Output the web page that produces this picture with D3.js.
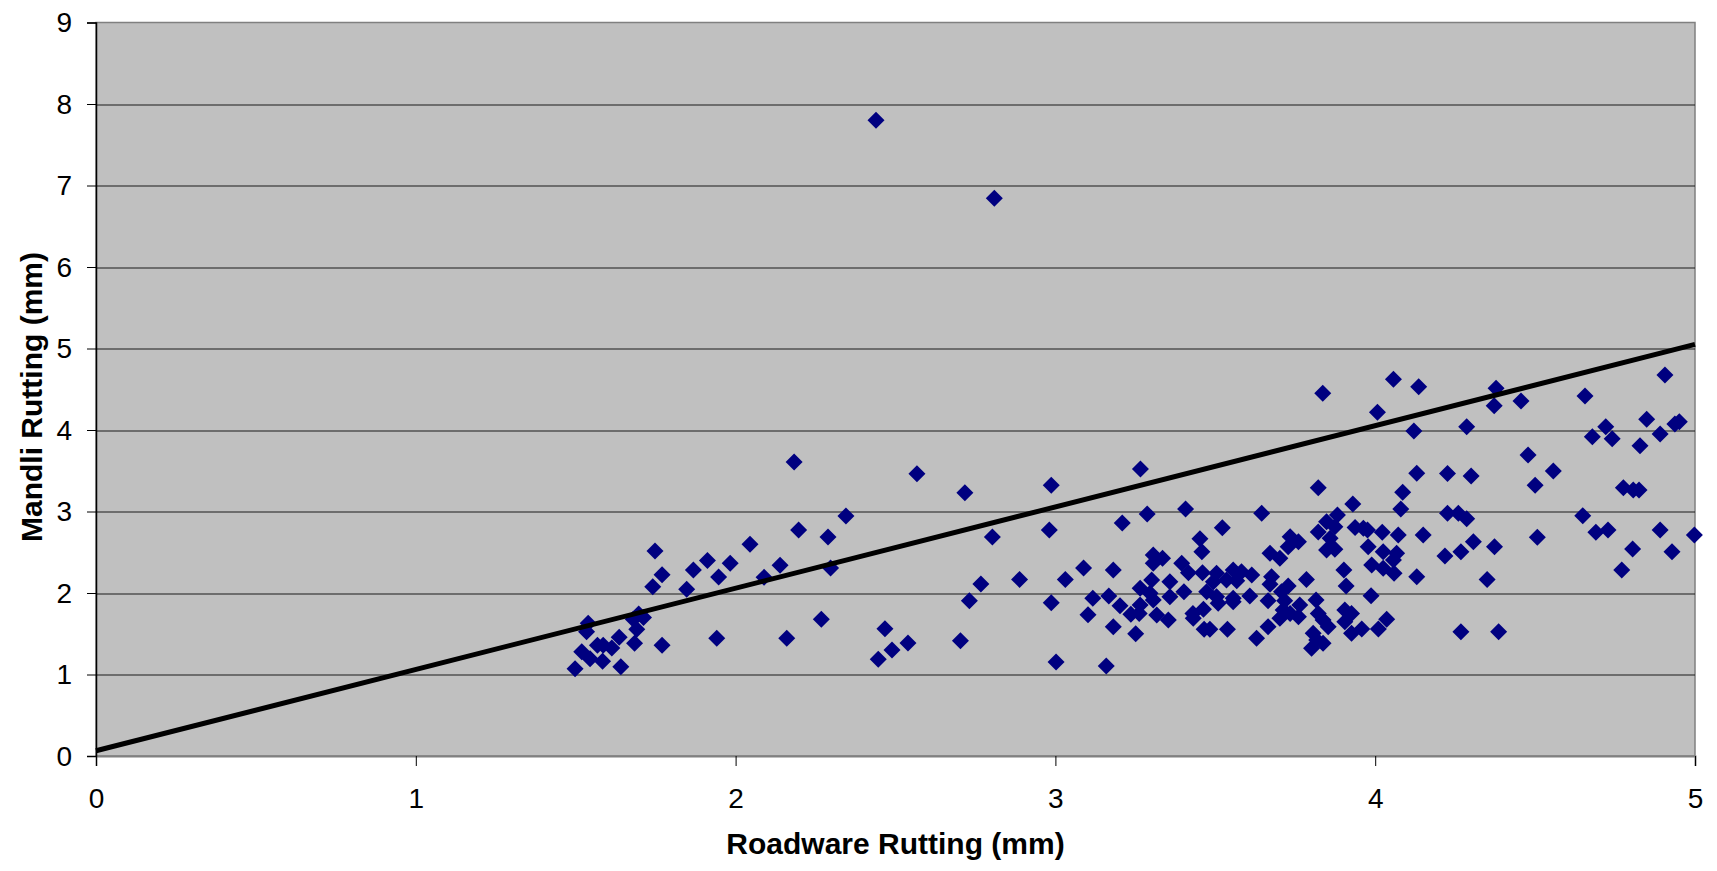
<!DOCTYPE html>
<html>
<head>
<meta charset="utf-8">
<script src="https://cdnjs.cloudflare.com/ajax/libs/d3/7.8.5/d3.min.js"></script>
<style>
  body { margin: 0; background: #fff; }
  svg { display: block; }
</style>
</head>
<body>
<div class="center"></div>
<script>
// Roadware vs Mandli rutting
var roadware = [
    2.183, 2.345, 2.197, 2.289, 1.748, 2.045, 1.912, 1.983, 1.868, 1.770,
    2.139, 1.947, 2.089, 2.297, 1.741, 1.847, 1.697, 1.712, 1.680, 1.691,
    1.539, 1.534, 1.684, 1.636, 1.613, 1.568, 1.586, 1.519, 1.545, 1.584,
    1.498, 1.641, 1.770, 1.941, 2.160, 2.268,
    2.439, 2.809,
    2.567, 2.717, 3.266, 2.987, 2.803, 2.981, 3.209, 3.287, 2.767, 2.731,
    2.888, 3.031, 3.088, 3.181, 2.987, 3.117, 3.167, 3.202, 3.102, 3.181,
    3.251, 3.236, 3.262, 3.317, 3.265, 3.306, 3.335, 3.306, 3.301, 3.296,
    3.306, 2.467, 2.446, 2.489, 2.539, 2.703, 3.002, 3.159,
    3.407, 3.522, 3.645, 3.452, 3.458, 3.395, 3.416, 3.460, 3.504, 3.556,
    3.582, 3.614, 3.358, 3.494, 3.535, 3.567, 3.402, 3.473, 3.504, 3.556,
    3.608, 3.358, 3.265, 3.509, 3.556, 3.353, 3.430, 3.463, 3.431, 3.465,
    3.483, 3.538, 3.629,
    4.130, 4.226, 4.086, 4.080, 3.822, 3.930, 3.882, 3.848, 3.874, 3.822,
    3.859, 3.848, 3.874, 3.937, 3.963, 3.976, 4.022, 4.072, 4.150, 3.734,
    3.760, 3.728, 3.671, 3.702, 3.978, 4.025, 4.067, 4.218, 3.989, 4.025,
    4.057, 4.059, 4.130, 3.902, 3.909, 3.785, 3.676, 3.671, 3.728, 3.707,
    3.665, 3.717, 3.764, 3.815, 3.987, 3.712, 3.702, 3.734, 3.760, 3.822,
    3.837, 3.853, 3.905, 3.926, 3.905, 4.036, 3.665, 3.958, 3.926, 4.010,
    3.806, 3.817, 3.837, 3.801,
    3.836, 4.057, 4.136, 4.007, 4.121,
    4.906, 4.378, 4.372, 4.456, 4.656, 4.286, 4.849, 4.721, 4.679, 4.741,
    4.891, 4.937, 4.951, 4.828, 4.478, 4.557, 4.500, 4.300, 4.776, 4.807,
    4.825, 4.226, 4.260, 4.286, 4.649, 4.690, 4.728, 4.891, 4.998, 4.507,
    4.307, 4.373, 4.268, 4.805, 4.928, 4.771, 4.350, 4.268, 4.386
];
var mandli = [
    3.607, 2.945, 2.773, 2.687, 2.515, 2.597, 2.400, 2.364, 2.282, 2.225,
    2.340, 2.196, 2.192, 2.307, 2.078, 2.045, 1.742, 1.700, 1.677, 1.554,
    1.628, 1.525, 1.383, 1.456, 1.325, 1.358, 1.358, 1.280, 1.194, 1.162,
    1.071, 1.096, 1.358, 1.444, 1.444, 1.677,
    7.800, 6.845,
    3.464, 3.231, 3.521, 3.321, 2.687, 2.773, 2.859, 2.969, 2.110, 1.906,
    2.167, 2.167, 2.307, 2.282, 1.881, 1.935, 1.963, 1.845, 1.734, 1.587,
    1.501, 1.738, 1.750, 1.730, 2.057, 2.466, 2.426, 2.364, 2.160, 1.996,
    1.914, 1.562, 1.186, 1.300, 1.387, 1.415, 1.153, 1.104,
    3.031, 2.801, 2.978, 2.667, 2.507, 2.364, 2.250, 2.250, 2.242, 2.282,
    2.262, 2.221, 2.139, 2.139, 2.160, 2.151, 2.016, 2.016, 1.955, 1.935,
    1.963, 1.955, 1.853, 1.873, 1.894, 1.669, 1.750, 1.800, 1.690, 1.554,
    1.554, 1.554, 1.444,
    3.468, 3.466, 3.235, 3.031, 3.292, 3.092, 2.957, 2.875, 2.814, 2.748,
    2.671, 2.528, 2.536, 2.805, 2.793, 2.773, 2.744, 2.712, 2.712, 2.691,
    2.630, 2.568, 2.487, 2.426, 2.568, 2.507, 2.487, 2.454, 2.344, 2.303,
    2.405, 2.242, 2.200, 2.282, 2.086, 2.167, 2.200, 2.107, 2.086, 2.016,
    1.906, 1.906, 1.853, 1.914, 1.967, 1.791, 1.690, 1.750, 1.709, 1.750,
    1.669, 1.587, 1.791, 1.750, 1.648, 1.677, 1.587, 1.558, 1.505, 1.558,
    1.505, 1.423, 1.382, 1.321,
    4.450, 4.622, 4.531, 4.217, 3.988,
    4.675, 4.511, 4.298, 4.356, 4.417, 4.041, 4.131, 4.041, 3.918, 3.893,
    3.951, 4.074, 4.102, 3.808, 3.693, 3.497, 3.321, 3.436, 3.292, 3.264,
    3.264, 2.978, 2.978, 2.912, 2.949, 2.744, 2.773, 2.773, 2.712, 2.683,
    2.630, 2.568, 2.507, 2.540, 2.507, 2.282, 2.167, 1.525, 1.525
];

// trend line end points
var trendX = [0, 5];
var trendY = [0.065, 5.05];

var xTicks = [0, 1, 2, 3, 4, 5];
var yTicks = [0, 1, 2, 3, 4, 5, 6, 7, 8, 9];

var data = roadware.map(function(d, i) { return {x: d, y: mandli[i]}; });
var trend = trendX.map(function(d, i) { return {x: d, y: trendY[i]}; });

// Set the dimensions of the canvas / graph
var margin = {top: 22.5, right: 22, bottom: 115, left: 96},
    width = 1717 - margin.left - margin.right,
    height = 871 - margin.top - margin.bottom;

var x = d3.scaleLinear().domain([0, 5]).range([0, width]);
var y = d3.scaleLinear().domain([0, 9]).range([height, 0]);

var svg = d3.select(".center").append("svg")
    .attr("width", width + margin.left + margin.right)
    .attr("height", height + margin.top + margin.bottom)
    .append("g")
    .attr("transform", "translate(" + margin.left + "," + margin.top + ")");

// grey plot area
svg.append("rect")
    .attr("width", width)
    .attr("height", height)
    .attr("fill", "#c0c0c0")
    .attr("stroke", "#808080")
    .attr("stroke-width", 1.5);

// horizontal grid lines
svg.append("g")
    .selectAll("line")
    .data(yTicks.filter(function(d) { return d > 0 && d < 9; }))
    .enter().append("line")
    .attr("x1", 0)
    .attr("x2", width)
    .attr("y1", function(d) { return Math.round(y(d)) + 0.5; })
    .attr("y2", function(d) { return Math.round(y(d)) + 0.5; })
    .attr("stroke", "#1a1a1a")
    .attr("stroke-width", 1);

// trend line
var line = d3.line()
    .x(function(d) { return x(d.x); })
    .y(function(d) { return y(d.y); });

// diamonds
svg.append("g")
    .selectAll("path")
    .data(data)
    .enter().append("path")
    .attr("transform", function(d) { return "translate(" + x(d.x) + "," + y(d.y) + ")"; })
    .attr("d", "M0,-8.5L8.5,0L0,8.5L-8.5,0Z")
    .attr("fill", "#000080");

svg.append("path")
    .datum(trend)
    .attr("fill", "none")
    .attr("stroke", "#000")
    .attr("stroke-width", 5)
    .attr("d", line);

// X Axis
var xAxis = svg.append("g")
    .attr("transform", "translate(0," + height + ")")
    .call(d3.axisBottom(x).tickValues(xTicks).tickSize(10).tickPadding(0).tickFormat(d3.format("d")));
xAxis.select(".domain").attr("stroke", "#808080").attr("stroke-width", 2);
xAxis.selectAll("text")
    .attr("font-family", "'Liberation Sans', Arial, sans-serif")
    .attr("font-size", "28px")
    .attr("fill", "#000")
    .attr("dy", null)
    .attr("y", 52);

// Y Axis
var yAxis = svg.append("g")
    .call(d3.axisLeft(y).tickValues(yTicks).tickSize(9).tickPadding(15).tickFormat(d3.format("d")));
yAxis.select(".domain").attr("stroke", "#000").attr("stroke-width", 1.5);
yAxis.selectAll("text")
    .attr("font-family", "'Liberation Sans', Arial, sans-serif")
    .attr("font-size", "28px")
    .attr("fill", "#000")
    .attr("dy", "0.33em");

// Label for X Axis
svg.append("text")
    .attr("font-family", "'Liberation Sans', Arial, sans-serif")
    .attr("font-size", "30px")
    .attr("font-weight", "bold")
    .attr("x", width / 2)
    .attr("y", 854 - margin.top)
    .attr("text-anchor", "middle")
    .text("Roadware Rutting (mm)");

// Label for Y Axis
svg.append("text")
    .attr("font-family", "'Liberation Sans', Arial, sans-serif")
    .attr("font-size", "30px")
    .attr("font-weight", "bold")
    .attr("transform", "rotate(-90)")
    .attr("x", -(397 - margin.top))
    .attr("y", 42 - margin.left)
    .attr("text-anchor", "middle")
    .text("Mandli Rutting (mm)");
</script>
</body>
</html>
